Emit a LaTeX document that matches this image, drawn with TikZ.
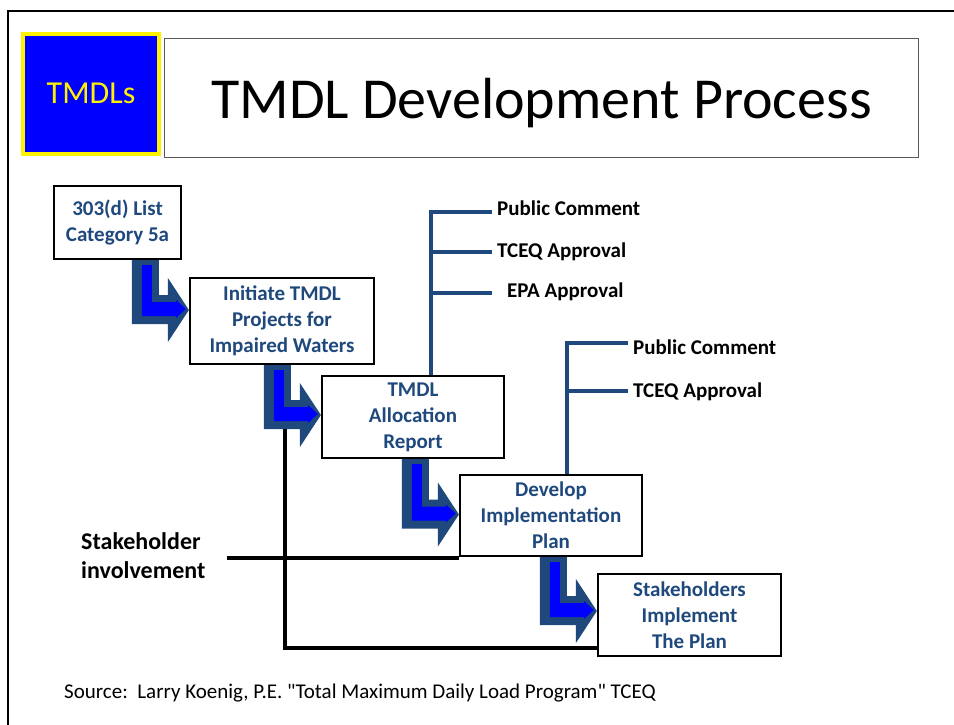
\documentclass[tikz,border=0pt]{standalone}
\usepackage{fontspec}
\setmainfont{Carlito}
\newfontfamily\sourcefont{Carlito}[Ligatures=TeXOff]
\usetikzlibrary{calc}
\usetikzlibrary{backgrounds}
\definecolor{tmdlnavy}{RGB}{31,73,125}
\definecolor{vivid}{RGB}{0,0,255}

\begin{document}
\begin{tikzpicture}[
    x=1pt, y=-1pt,
    stepbox/.style={draw, line width=2.2pt, fill=white, align=center, inner sep=2pt,
        text=tmdlnavy, font=\bfseries\fontsize{21}{26}\selectfont},
    note/.style={anchor=base west, inner sep=0pt, font=\bfseries\fontsize{21}{26}\selectfont},
    navyline/.style={draw=tmdlnavy, line width=3.4pt},
    blackline/.style={draw=black, line width=3.2pt}
]

\useasboundingbox (0,0) rectangle (954,724);

% --- Slide frame and header ---
\draw[line width=2.6pt] (8,11) rectangle (962,732);
\node[draw=yellow, line width=4pt, fill=vivid, minimum width=136, minimum height=120, inner sep=0pt,
      text=yellow, font=\fontsize{32}{38}\selectfont] (tag) at (91,93.5) {TMDLs};
\node[draw=black!65, line width=1.5pt, minimum width=754, minimum height=119] (head) at (541.5,98) {};
\node[anchor=base, inner sep=0pt, font=\fontsize{58}{70}\selectfont] (title) at (541.5,118) {TMDL Development Process};

% --- Process steps ---
\node[stepbox, minimum width=127, minimum height=73] (b1) at (117.5,222.5) {303(d) List\\Category 5a};
\node[stepbox, minimum width=184, minimum height=86] (b2) at (282,321) {Initiate TMDL\\Projects for\\Impaired Waters};
\node[stepbox, minimum width=182, minimum height=82] (b3) at (413,417) {TMDL\\Allocation\\Report};
\node[stepbox, minimum width=182, minimum height=81] (b4) at (551,515.5) {Develop\\Implementation\\Plan};
\node[stepbox, minimum width=183, minimum height=82] (b5) at (689.5,615) {Stakeholders\\Implement\\The Plan};

% --- Review branches ---
\coordinate (s1) at (431,212);
\coordinate (s2) at (567,343);

\draw[navyline] (492,212) -- (s1) -- (s1 |- b3.north);
\draw[navyline] (s1 |- 0,252) -- (492,252);
\draw[navyline] (s1 |- 0,293) -- (492,293);

\draw[navyline] (628,343) -- (s2) -- (s2 |- b4.north);
\draw[navyline] (s2 |- 0,391) -- (628,391);

\node[note] (pc1) at (497,215) {Public Comment};
\node[note] (ta1) at (497,257) {TCEQ Approval};
\node[note] (ea1) at (507,297) {EPA Approval};
\node[note] (pc2) at (633,354) {Public Comment};
\node[note] (ta2) at (633,397) {TCEQ Approval};

% --- Stakeholder involvement ---
\node[font=\bfseries\fontsize{24}{29}\selectfont, align=left, anchor=west, inner sep=0pt] (stake) at (81,556) {Stakeholder\\involvement};

% --- Source line ---
\node[anchor=base west, inner sep=0pt, font=\sourcefont\fontsize{21}{25}\selectfont] (source) at (64,698)
    {Source:~~Larry Koenig, P.E. "Total Maximum Daily Load Program" TCEQ};

% --- Connectors behind the steps ---
\begin{scope}[on background layer]
    \fill[white] (0,0) rectangle (954,724);

    \coordinate (sk) at (227,558);
    \coordinate (jn) at (285,558);
    \coordinate (jb) at (285,648);
    \draw[blackline] (sk) -- (sk -| b4.west);
    \draw[blackline] (jn |- b2.south) -- (jb) -- (jb -| b5.west);

    % bent arrows from one step down into the next
    \foreach \src/\dst/\dy in {b1/b2/-11, b2/b3/-2, b3/b4/-1, b4/b5/-4}
    {
        \coordinate (tip) at ($(\dst.west)+(0,\dy)$);
        \coordinate (lid) at (\src.south);
        \coordinate (lidb) at ($(\src.south)+(0,5)$);
        \begin{scope}[shift={(tip)}]
            \fill[tmdlnavy] (-57,0 |- lid) -- (-30,0 |- lid) -- (-30,-15) -- (-21,-15) -- (-21,-32)
                -- (0,0) -- (-21,32) -- (-21,14) -- (-57,14) -- cycle;
            \fill[vivid] (-47,0 |- lidb) -- (-37,0 |- lidb) -- (-37,-8) -- (-13,-8) -- (-13,-10)
                -- (-3,-1) -- (-13,8) -- (-13,6) -- (-47,6) -- cycle;
        \end{scope}
    }
\end{scope}

\end{tikzpicture}
\end{document}
